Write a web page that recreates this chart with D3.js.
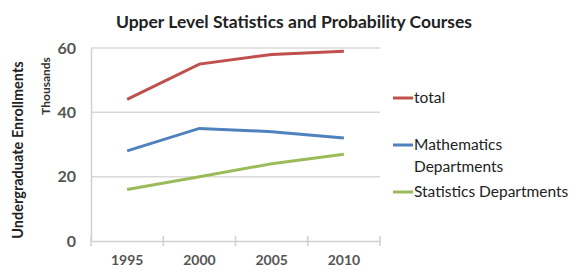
<!DOCTYPE html>
<html>
<head>
<meta charset="utf-8">
<script src="https://cdn.jsdelivr.net/npm/d3@7"></script>
<style>
  body { margin: 0; background: #fff; }
  svg { display: block; font-family: Lato, "Open Sans", sans-serif; }
</style>
</head>
<body>
<svg id="chart" width="576" height="271"></svg>
<script>
// data
const years = ["1995", "2000", "2005", "2010"];
const totalVals = [44, 55, 58, 59];
const mathVals = [28, 35, 34, 32];
const statVals = [16, 20, 24, 27];
const yTicks = [0, 20, 40, 60];
const seriesNames = ["total", "Mathematics Departments", "Statistics Departments"];
const seriesColors = ["#c0504d", "#4f81bd", "#9bbb59"];

const series = [totalVals, mathVals, statVals].map((vals, i) => ({
    name: seriesNames[i],
    color: seriesColors[i],
    values: vals.map((v, j) => ({ year: years[j], value: v }))
}));

// layout
const svg = d3.select("#chart");
const margin = { top: 48, left: 91, right: 196, bottom: 30 };
const innerW = 576 - margin.left - margin.right;
const innerH = 271 - margin.top - margin.bottom;

const g = svg.append("g")
    .attr("transform", `translate(${margin.left},${margin.top})`);

const x = d3.scaleBand().domain(years).range([0, innerW]);
const y = d3.scaleLinear().domain([0, 60]).range([innerH, 0]);

// gridlines
g.selectAll("line.grid")
    .data(yTicks.filter(t => t > 0))
    .join("line")
    .attr("class", "grid")
    .attr("x1", 0).attr("x2", innerW)
    .attr("y1", d => y(d)).attr("y2", d => y(d))
    .attr("stroke", "#d9d9d9")
    .attr("stroke-width", 1.5);

// y axis
const yAxisG = g.append("g")
    .call(d3.axisLeft(y).tickValues(yTicks).tickSize(0).tickPadding(15));
yAxisG.select(".domain").attr("stroke", "#d0d0d0").attr("stroke-width", 1.5);
yAxisG.selectAll("text")
    .attr("font-size", 16)
    .attr("font-weight", "bold")
    .attr("fill", "#555")
    .attr("font-family", "Lato, sans-serif");

// x axis
const xAxisG = g.append("g")
    .attr("transform", `translate(0,${innerH})`)
    .call(d3.axisBottom(x).tickSize(0).tickPadding(14));
xAxisG.select(".domain").attr("stroke", "#d0d0d0").attr("stroke-width", 1.5);
xAxisG.selectAll("text")
    .attr("font-size", 14)
    .attr("font-weight", "bold")
    .attr("fill", "#555")
    .attr("font-family", "Lato, sans-serif");

// tick marks between categories
const bounds = years.map(d => x(d)).concat([innerW]);
g.selectAll("line.xtick")
    .data(bounds)
    .join("line")
    .attr("class", "xtick")
    .attr("x1", d => d).attr("x2", d => d)
    .attr("y1", innerH - 5).attr("y2", innerH + 5)
    .attr("stroke", "#d0d0d0")
    .attr("stroke-width", 1.5);

// lines
const line = d3.line()
    .x(d => x(d.year) + x.bandwidth() / 2)
    .y(d => y(d.value));

g.selectAll("path.series")
    .data(series)
    .join("path")
    .attr("class", "series")
    .attr("fill", "none")
    .attr("stroke", d => d.color)
    .attr("stroke-width", 3)
    .attr("d", d => line(d.values));

// title
svg.append("text")
    .attr("x", 294)
    .attr("y", 28)
    .attr("text-anchor", "middle")
    .attr("font-size", 17.5)
    .attr("font-weight", "bold")
    .attr("fill", "#222")
    .text("Upper Level Statistics and Probability Courses");

// axis titles
svg.append("text")
    .attr("transform", "translate(23,150) rotate(-90)")
    .attr("text-anchor", "middle")
    .attr("font-size", 14.5)
    .attr("font-weight", "bold")
    .attr("fill", "#222")
    .text("Undergraduate Enrollments");

svg.append("text")
    .attr("transform", "translate(50,86) rotate(-90)")
    .attr("text-anchor", "middle")
    .attr("font-size", 12)
    .attr("font-weight", "bold")
    .attr("fill", "#333")
    .text("Thousands");

// legend
const legendItems = [
    { s: series[0], lines: ["total"], y: 98 },
    { s: series[1], lines: ["Mathematics", "Departments"], y: 145 },
    { s: series[2], lines: ["Statistics Departments"], y: 192 }
];
const leg = svg.append("g");
legendItems.forEach(item => {
    leg.append("line")
        .attr("x1", 393).attr("x2", 413)
        .attr("y1", item.y).attr("y2", item.y)
        .attr("stroke", item.s.color)
        .attr("stroke-width", 3);
    item.lines.forEach((t, i) => {
        leg.append("text")
            .attr("x", 414)
            .attr("y", item.y + 5 + i * 22)
            .attr("font-size", 15.5)
            .attr("fill", "#222")
            .text(t);
    });
});
</script>
</body>
</html>
